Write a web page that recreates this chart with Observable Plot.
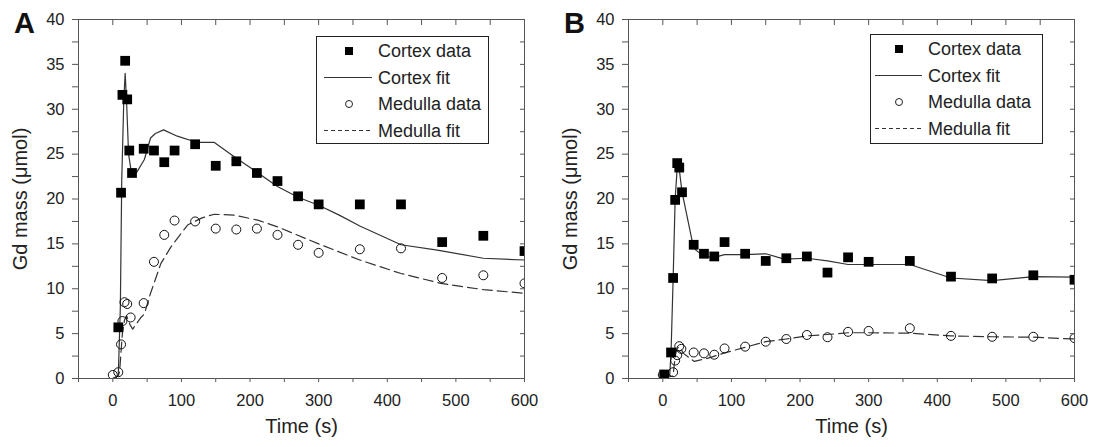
<!DOCTYPE html>
<html>
<head>
<meta charset="utf-8">
<script src="https://cdn.jsdelivr.net/npm/d3@7"></script>
<script src="https://cdn.jsdelivr.net/npm/@observablehq/plot@0.6"></script>
<style>
  html, body { margin: 0; padding: 0; background: #fff; }
  #wrap { position: relative; width: 1100px; height: 447px; display: flex; font-family: "Liberation Sans", Arial, sans-serif; }
  .panel { position: relative; width: 550px; height: 447px; }
  .legend { position: absolute; border: 1px solid #222; background: #fff; box-sizing: border-box; }
  .legend .lab { position: absolute; font-size: 18px; color: #222; white-space: nowrap; line-height: 1; }
  .legend svg { position: absolute; overflow: visible; }
</style>
</head>
<body>
<div id="wrap"></div>
<script>
// ---------- Data ----------
const xTicks = d3.range(-50, 601, 50);
const yTicks = d3.range(0, 40.01, 2.5);
const legendLabels = ["Cortex data", "Cortex fit", "Medulla data", "Medulla fit"];
const yTitle = "Gd mass (μmol)";
const xTitle = "Time (s)";

// Panel A
const cortexDataTimeA = [8, 12, 14, 18, 21, 24, 28, 45, 60, 75, 90, 120, 150, 180, 210, 240, 270, 300, 360, 420, 480, 540, 600];
const cortexDataA     = [5.7, 20.7, 31.6, 35.4, 31.1, 25.4, 22.9, 25.6, 25.4, 24.1, 25.4, 26.1, 23.7, 24.2, 22.9, 22.0, 20.3, 19.4, 19.4, 19.4, 15.2, 15.9, 14.2];
const cortexFitTimeA  = [0, 8, 11, 13, 16, 18, 20, 23, 28, 35, 46, 55, 62, 74, 94, 123, 148, 177, 206, 240, 270, 300, 330, 360, 420, 473, 540, 600];
const cortexFitA      = [0, 0.3, 8, 22, 31, 34, 31, 25, 22.5, 23, 24.4, 26.8, 27.3, 27.7, 27.0, 26.3, 26.3, 24.7, 23.2, 21.4, 20.2, 19.3, 18.2, 17.0, 14.9, 14.3, 13.4, 13.2];
const medullaDataTimeA = [0, 8, 12, 14, 17, 21, 26, 45, 60, 75, 90, 120, 150, 180, 210, 240, 270, 300, 360, 420, 480, 540, 600];
const medullaDataA     = [0.4, 0.7, 3.8, 6.4, 8.5, 8.3, 6.8, 8.4, 13.0, 16.0, 17.6, 17.5, 16.7, 16.6, 16.7, 16.0, 14.9, 14.0, 14.4, 14.5, 11.2, 11.5, 10.6];
const medullaFitTimeA  = [0, 8, 10, 12, 14, 17, 20, 25, 29, 41, 46, 55, 65, 70, 85, 109, 130, 148, 177, 211, 240, 300, 360, 420, 478, 540, 600];
const medullaFitA      = [0, 0.3, 0.8, 3, 5, 6.5, 7, 6, 5.5, 6.8, 7.2, 9.5, 11.7, 12.8, 14.7, 17.1, 17.9, 18.3, 18.2, 17.65, 16.9, 15.0, 13.2, 11.7, 10.6, 9.9, 9.5];

// Panel B
const cortexDataTimeB = [2, 12, 15, 18, 21, 24, 28, 45, 60, 75, 90, 120, 150, 180, 210, 240, 270, 300, 360, 420, 480, 540, 600];
const cortexDataB     = [0.45, 2.9, 11.2, 19.9, 24.0, 23.5, 20.75, 14.9, 13.9, 13.6, 15.2, 13.9, 13.1, 13.4, 13.6, 11.8, 13.5, 13.0, 13.1, 11.35, 11.15, 11.5, 11.0];
const cortexFitTimeB  = [0, 10, 12, 15, 18, 21, 24, 28, 45, 60, 75, 90, 120, 150, 177, 210, 240, 270, 300, 360, 420, 480, 540, 600];
const cortexFitB      = [0, 0.3, 2.9, 11, 20, 23.5, 23.3, 20.8, 14.5, 13.6, 13.5, 13.8, 13.8, 13.9, 13.3, 13.4, 13.1, 12.7, 12.7, 12.7, 11.2, 10.9, 11.35, 11.3];
const medullaDataTimeB = [0, 15, 18, 21, 24, 27, 45, 60, 75, 90, 120, 150, 180, 210, 240, 270, 300, 360, 420, 480, 540, 600];
const medullaDataB     = [0.4, 0.7, 2.0, 2.6, 3.6, 3.3, 2.9, 2.8, 2.65, 3.35, 3.55, 4.1, 4.4, 4.85, 4.6, 5.2, 5.3, 5.6, 4.75, 4.65, 4.65, 4.5];
const medullaFitTimeB  = [0, 15, 18, 21, 25, 30, 46, 65, 90, 121, 150, 180, 210, 240, 270, 300, 360, 420, 480, 540, 600];
const medullaFitB      = [0, 0.3, 2.5, 3.4, 3.5, 2.8, 1.9, 2.25, 2.85, 3.5, 4.1, 4.4, 4.75, 4.9, 5.1, 5.1, 5.05, 4.75, 4.65, 4.6, 4.4];

// ---------- Drawing ----------
const zip = (ts, vs) => ts.map((t, i) => ({t, v: vs[i]}));

function panel(letter, cdT, cd, cfT, cf, mdT, md, mfT, mf) {
  const cortex = zip(cdT, cd), cortexFit = zip(cfT, cf);
  const medulla = zip(mdT, md), medullaFit = zip(mfT, mf);
  return Plot.plot({
    width: 550, height: 447,
    marginLeft: 78, marginRight: 26, marginTop: 19, marginBottom: 69,
    x: {domain: [-50, 600]},
    y: {domain: [0, 40]},
    style: {fontFamily: '"Liberation Sans", Arial, sans-serif', fontSize: "16.5px", color: "#222", background: "white", overflow: "visible"},
    marks: [
      Plot.line(cortexFit, {x: "t", y: "v", stroke: "#333", strokeWidth: 1.2, clip: true}),
      Plot.line(medullaFit, {x: "t", y: "v", stroke: "#333", strokeWidth: 1.2, strokeDasharray: "10,5", clip: true}),
      Plot.dot(medulla, {x: "t", y: "v", r: 4.5, stroke: "#111", fill: "none", strokeWidth: 1, clip: true}),
      Plot.dot(cortex, {x: "t", y: "v", symbol: "square", r: 5.5, fill: "#000", stroke: "none", clip: true}),
      Plot.frame({stroke: "#555"}),
      Plot.axisY({ticks: yTicks, tickSize: 6, tickPadding: 8, stroke: "#555", fill: "#222",
                  tickFormat: d => d % 5 === 0 ? String(d) : "", label: null}),
      Plot.axisY({anchor: "right", ticks: yTicks, tickSize: -5, stroke: "#555", tickFormat: () => "", label: null}),
      Plot.axisX({ticks: xTicks, tickSize: 4, tickPadding: 12, stroke: "#555", fill: "#222",
                  tickFormat: d => d % 100 === 0 ? String(d) : "", label: null}),
      Plot.axisX({anchor: "top", ticks: xTicks, tickSize: -5, stroke: "#555", tickFormat: () => "", label: null}),
      Plot.text([yTitle], {text: d => d, frameAnchor: "left", rotate: -90, dx: -58, fontSize: 20, fill: "#222", textAnchor: "middle"}),
      Plot.text([xTitle], {text: d => d, frameAnchor: "bottom", dy: 54, fontSize: 20, fill: "#222", textAnchor: "middle"}),
      Plot.text([letter], {text: d => d, frameAnchor: "top-left", dx: -54, dy: -7, fontSize: 29, fontWeight: "bold", fill: "#111", textAnchor: "middle", lineAnchor: "top"})
    ]
  });
}

function legend(left, top, width, height, symX, lineX0, lineX1, textX) {
  const div = document.createElement("div");
  div.className = "legend";
  Object.assign(div.style, {left: left + "px", top: top + "px", width: width + "px", height: height + "px"});
  const rowsY = [15, 41.5, 68, 94.5];
  const ns = "http://www.w3.org/2000/svg";
  const svg = document.createElementNS(ns, "svg");
  svg.setAttribute("width", width); svg.setAttribute("height", height);
  svg.style.left = "-1px"; svg.style.top = "-1px";
  const sq = document.createElementNS(ns, "rect");
  sq.setAttribute("x", symX - 4); sq.setAttribute("y", rowsY[0] - 4); sq.setAttribute("width", 8); sq.setAttribute("height", 8);
  sq.setAttribute("fill", "#000"); svg.appendChild(sq);
  const l1 = document.createElementNS(ns, "line");
  l1.setAttribute("x1", lineX0); l1.setAttribute("x2", lineX1); l1.setAttribute("y1", rowsY[1]); l1.setAttribute("y2", rowsY[1]);
  l1.setAttribute("stroke", "#333"); l1.setAttribute("stroke-width", 1.2); svg.appendChild(l1);
  const c = document.createElementNS(ns, "circle");
  c.setAttribute("cx", symX); c.setAttribute("cy", rowsY[2]); c.setAttribute("r", 3.5);
  c.setAttribute("fill", "none"); c.setAttribute("stroke", "#222"); c.setAttribute("stroke-width", 1); svg.appendChild(c);
  const l2 = document.createElementNS(ns, "line");
  l2.setAttribute("x1", lineX0); l2.setAttribute("x2", lineX1); l2.setAttribute("y1", rowsY[3]); l2.setAttribute("y2", rowsY[3]);
  l2.setAttribute("stroke", "#333"); l2.setAttribute("stroke-width", 1); l2.setAttribute("stroke-dasharray", "4,3"); svg.appendChild(l2);
  div.appendChild(svg);
  legendLabels.forEach((lab, i) => {
    const s = document.createElement("span");
    s.className = "lab";
    s.textContent = lab;
    s.style.left = (textX - 1) + "px";
    s.style.top = (rowsY[i] - 1 - 9) + "px";
    div.appendChild(s);
  });
  return div;
}

const wrap = document.getElementById("wrap");
const pA = document.createElement("div"); pA.className = "panel";
const pB = document.createElement("div"); pB.className = "panel";
pA.appendChild(panel("A", cortexDataTimeA, cortexDataA, cortexFitTimeA, cortexFitA, medullaDataTimeA, medullaDataA, medullaFitTimeA, medullaFitA));
pB.appendChild(panel("B", cortexDataTimeB, cortexDataB, cortexFitTimeB, cortexFitB, medullaDataTimeB, medullaDataB, medullaFitTimeB, medullaFitB));
pA.appendChild(legend(316, 36, 173, 108, 33, 8, 56, 62));
pB.appendChild(legend(320, 34, 173, 110, 29, 5, 52, 58));
wrap.appendChild(pA);
wrap.appendChild(pB);
</script>
</body>
</html>
